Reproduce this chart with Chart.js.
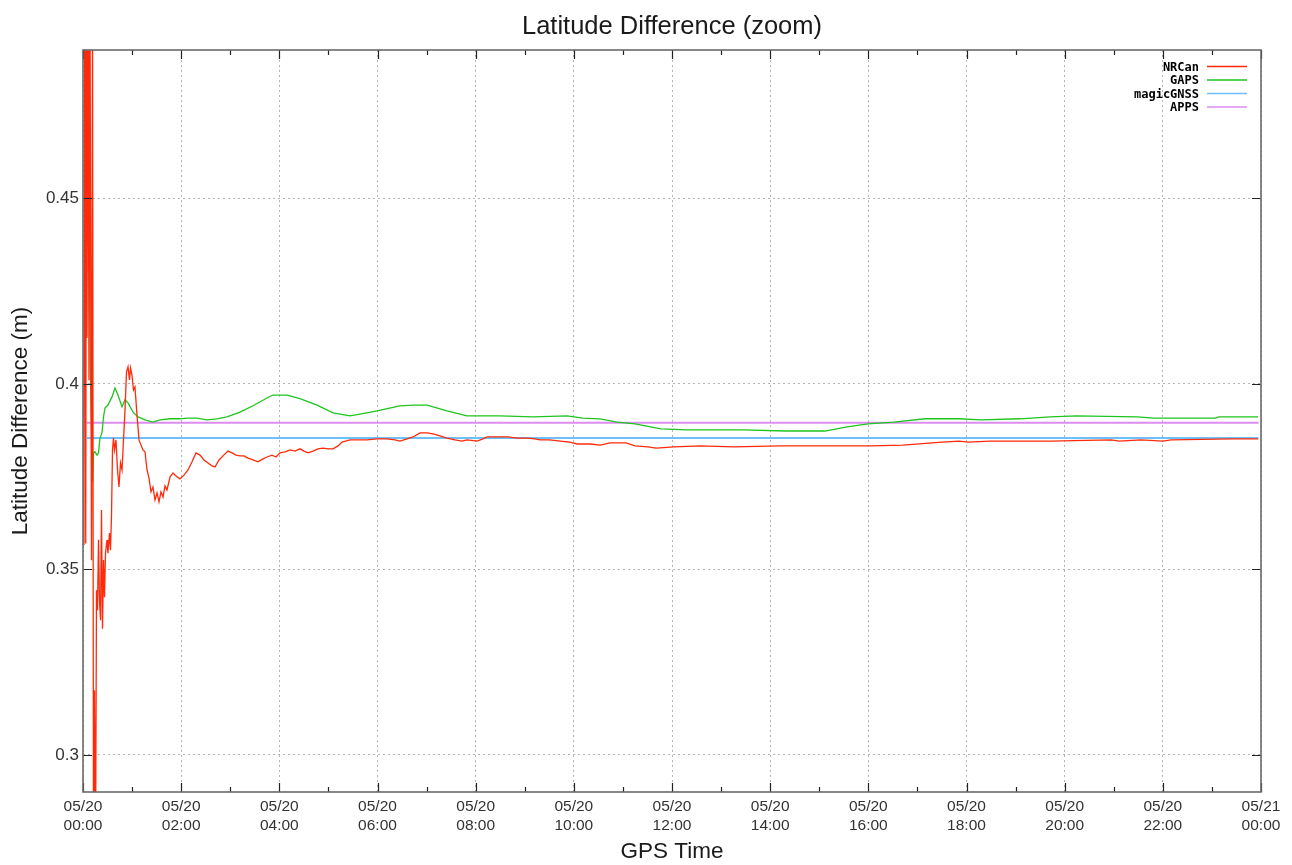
<!DOCTYPE html>
<html>
<head>
<meta charset="utf-8">
<script src="https://cdn.jsdelivr.net/npm/chart.js@4/dist/chart.umd.min.js"></script>
<style>
  html, body { margin: 0; padding: 0; background: #ffffff; }
  #wrap { width: 1292px; height: 865px; }
</style>
</head>
<body>
<div id="wrap"><canvas id="chart" width="1292" height="865"></canvas></div>
<script>
// ---------- data (hours after 05/20 00:00, latitude difference in m) ----------
const seriesNames = ['NRCan', 'GAPS', 'magicGNSS', 'APPS'];

const nrcanTime = [0.020,0.031,0.041,0.051,0.061,0.071,0.081,0.102,0.122,0.143,0.173,0.194,0.214,0.234,0.255,0.275,0.295,0.316,0.336,0.357,0.377,0.397,0.418,0.438,0.458,0.489,0.509,0.540,0.560,0.581,0.601,0.621,0.642,0.672,0.703,0.733,0.764,0.795,0.825,0.856,0.886,0.917,0.947,0.968,0.998,1.029,1.059,1.100,1.141,1.182,1.222,1.263,1.304,1.345,1.385,1.426,1.467,1.508,1.548,1.589,1.630,1.671,1.711,1.773,1.834,1.895,1.976,2.058,2.139,2.221,2.302,2.384,2.465,2.547,2.628,2.690,2.771,2.852,2.954,3.036,3.117,3.199,3.280,3.362,3.464,3.566,3.667,3.749,3.851,3.932,4.014,4.116,4.218,4.320,4.421,4.503,4.584,4.686,4.788,4.890,4.992,5.094,5.196,5.277,5.440,5.603,5.786,5.990,6.194,6.357,6.459,6.601,6.724,6.866,7.009,7.131,7.274,7.416,7.579,7.722,7.824,8.028,8.150,8.232,8.354,8.496,8.659,8.843,9.046,9.209,9.311,9.515,9.719,9.923,10.065,10.330,10.534,10.738,11.064,11.247,11.512,11.675,12.042,12.571,13.264,14.201,15.118,16.035,16.707,17.502,17.848,18.032,18.480,19.703,20.945,21.108,21.557,22.005,22.168,23.411,23.940];
const nrcanLat = [0.3566,0.500,0.465,0.500,0.357,0.500,0.4124,0.500,0.401,0.500,0.3525,0.500,0.2716,0.3174,0.270,0.3444,0.339,0.358,0.3417,0.3363,0.366,0.334,0.3525,0.3425,0.3544,0.3579,0.3544,0.3598,0.3552,0.3647,0.3822,0.3854,0.3822,0.3849,0.3768,0.3722,0.3787,0.3768,0.3849,0.393,0.4032,0.4046,0.4011,0.4043,0.4024,0.3984,0.3992,0.3916,0.3849,0.3835,0.3822,0.3817,0.3768,0.3746,0.3709,0.3722,0.3687,0.3706,0.3682,0.3709,0.3695,0.3725,0.3714,0.3749,0.3760,0.3752,0.3744,0.3754,0.3768,0.3790,0.3814,0.3808,0.3795,0.3787,0.3779,0.3776,0.3795,0.3806,0.3819,0.3814,0.3808,0.3806,0.3806,0.3800,0.3795,0.3790,0.3798,0.3803,0.3808,0.3803,0.3814,0.3817,0.3822,0.3819,0.3825,0.3819,0.3814,0.3819,0.3825,0.3827,0.3825,0.3825,0.3833,0.3843,0.3849,0.3849,0.3849,0.3852,0.3852,0.3849,0.3846,0.3852,0.3857,0.3868,0.3868,0.3865,0.3860,0.3854,0.3849,0.3846,0.3849,0.3846,0.3852,0.3857,0.3857,0.3857,0.3857,0.3854,0.3854,0.3852,0.3849,0.3849,0.3846,0.3843,0.3838,0.3838,0.3835,0.3841,0.3841,0.3833,0.3830,0.3827,0.3830,0.3833,0.3830,0.3833,0.3833,0.3833,0.3835,0.3843,0.3846,0.3843,0.3846,0.3846,0.3849,0.3846,0.3849,0.3846,0.3849,0.3852,0.3852];

const gapsTime = [0.061,0.092,0.132,0.153,0.194,0.214,0.244,0.285,0.316,0.346,0.387,0.418,0.448,0.509,0.591,0.652,0.713,0.795,0.856,0.917,1.019,1.121,1.263,1.426,1.569,1.773,1.976,2.119,2.323,2.526,2.730,2.934,3.199,3.464,3.749,3.871,4.156,4.421,4.768,5.094,5.440,5.786,5.990,6.459,6.724,7.009,7.416,7.824,8.496,9.169,9.861,10.187,10.534,10.880,11.247,11.777,12.306,13.447,14.324,15.118,15.567,15.994,16.524,17.156,17.848,18.296,19.091,19.703,20.232,21.475,21.822,23.065,23.146,23.940];
const gapsLat = [0.500,0.4523,0.4294,0.4011,0.3736,0.3814,0.3817,0.3808,0.3814,0.3854,0.3868,0.3911,0.3935,0.3943,0.3965,0.3989,0.3970,0.3938,0.3957,0.3949,0.3924,0.3911,0.3903,0.3897,0.3903,0.3906,0.3906,0.3908,0.3908,0.3903,0.3906,0.3911,0.3924,0.3941,0.3962,0.3970,0.3970,0.3960,0.3943,0.3922,0.3914,0.3922,0.3927,0.3941,0.3943,0.3943,0.3927,0.3914,0.3914,0.3911,0.3914,0.3908,0.3906,0.3897,0.3892,0.3879,0.3876,0.3876,0.3873,0.3873,0.3884,0.3892,0.3897,0.3906,0.3906,0.3903,0.3906,0.3911,0.3914,0.3911,0.3908,0.3908,0.3911,0.3911];

const magicTime = [0.08, 23.95];
const magicLat = [0.3854, 0.3854];
const appsTime = [0.08, 23.95];
const appsLat = [0.3895, 0.3895];

// ---------- axis ticks ----------
const xTickHours = [0,2,4,6,8,10,12,14,16,18,20,22,24];
const xMinorHours = [1,3,5,7,9,11,13,15,17,19,21,23];
const xTickDates = ['05/20','05/20','05/20','05/20','05/20','05/20','05/20','05/20','05/20','05/20','05/20','05/20','05/21'];
const xTickTimes = ['00:00','02:00','04:00','06:00','08:00','10:00','12:00','14:00','16:00','18:00','20:00','22:00','00:00'];
const yTickValues = [0.3, 0.35, 0.4, 0.45];
const yTickLabels = ['0.3', '0.35', '0.4', '0.45'];

const seriesColors = ['#ff2a0a', '#1fc41f', '#6ec0fa', '#dd8cf0'];

function pairs(t, v) { return t.map((h, i) => ({ x: h, y: v[i] })); }

const FONT = '"Liberation Sans", Arial, Helvetica, sans-serif';

const framePlugin = {
  id: 'frame',
  afterDraw(chart) {
    const { ctx, chartArea: a, scales: { x, y } } = chart;
    ctx.save();
    // ticks pointing inward
    ctx.strokeStyle = '#222';
    ctx.lineWidth = 1.2;
    ctx.beginPath();
    xTickHours.forEach(h => {
      const px = Math.round(x.getPixelForValue(h)) + 0.5;
      ctx.moveTo(px, a.bottom); ctx.lineTo(px, a.bottom - 9);
      ctx.moveTo(px, a.top); ctx.lineTo(px, a.top + 9);
    });
    xMinorHours.forEach(h => {
      const px = Math.round(x.getPixelForValue(h)) + 0.5;
      ctx.moveTo(px, a.bottom); ctx.lineTo(px, a.bottom - 5);
      ctx.moveTo(px, a.top); ctx.lineTo(px, a.top + 5);
    });
    yTickValues.forEach(v => {
      const py = Math.round(y.getPixelForValue(v)) + 0.5;
      ctx.moveTo(a.left, py); ctx.lineTo(a.left + 9, py);
      ctx.moveTo(a.right, py); ctx.lineTo(a.right - 9, py);
    });
    ctx.stroke();
    // frame
    ctx.strokeStyle = '#6a6a6a';
    ctx.lineWidth = 1.6;
    ctx.strokeRect(a.left, a.top, a.right - a.left, a.bottom - a.top);
    // legend (label left of sample line)
    ctx.font = 'bold 12px "DejaVu Sans Mono", monospace';
    ctx.textAlign = 'right';
    ctx.textBaseline = 'middle';
    const rows = [67.5, 81, 94.5, 108];
    seriesNames.forEach((name, i) => {
      const yy = rows[i];
      ctx.fillStyle = '#000';
      ctx.fillText(name, 1199, yy);
      ctx.strokeStyle = seriesColors[i];
      ctx.lineWidth = 1.5;
      ctx.beginPath();
      ctx.moveTo(1207, yy - 1); ctx.lineTo(1247, yy - 1);
      ctx.stroke();
    });
    ctx.restore();
  }
};

new Chart(document.getElementById('chart'), {
  type: 'line',
  data: {
    datasets: [
      { label: seriesNames[0], data: pairs(nrcanTime, nrcanLat), borderColor: seriesColors[0], borderWidth: 1.3 },
      { label: seriesNames[1], data: pairs(gapsTime, gapsLat), borderColor: seriesColors[1], borderWidth: 1.3 },
      { label: seriesNames[2], data: pairs(magicTime, magicLat), borderColor: seriesColors[2], borderWidth: 2 },
      { label: seriesNames[3], data: pairs(appsTime, appsLat), borderColor: seriesColors[3], borderWidth: 2 }
    ]
  },
  options: {
    responsive: false,
    animation: false,
    devicePixelRatio: 1,
    layout: { padding: { left: 0, right: 31, top: 0, bottom: 0 } },
    elements: { point: { radius: 0 }, line: { tension: 0, fill: false } },
    plugins: {
      legend: { display: false },
      tooltip: { enabled: false },
      title: {
        display: true,
        fullSize: false,
        text: 'Latitude Difference (zoom)',
        color: '#1a1a1a',
        font: { family: FONT, size: 25.5, weight: 'normal' },
        padding: { top: 12, bottom: 7.4 }
      }
    },
    scales: {
      x: {
        type: 'linear',
        min: 0, max: 24,
        afterFit(s) { s.height = 73; },
        afterBuildTicks(s) { s.ticks = xTickHours.map(v => ({ value: v })); },
        ticks: {
          autoSkip: false,
          maxRotation: 0,
          padding: 5,
          color: '#333',
          font: { family: FONT, size: 15.5, lineHeight: 1.23 },
          callback: (v) => { const i = xTickHours.indexOf(v); return i >= 0 ? [xTickDates[i], xTickTimes[i]] : ''; }
        },
        grid: { color: '#b4b4b4', lineWidth: 1, drawTicks: false },
        border: { display: false, dash: [2, 3] },
        title: {
          display: true, text: 'GPS Time', color: '#1a1a1a',
          font: { family: FONT, size: 22.5 }, padding: { top: 0, bottom: 0 }
        }
      },
      y: {
        type: 'linear',
        min: 0.29, max: 0.49,
        afterFit(s) { s.width = 83; },
        afterBuildTicks(s) { s.ticks = yTickValues.map(v => ({ value: v })); },
        ticks: {
          autoSkip: false,
          padding: 4,
          color: '#333',
          font: { family: FONT, size: 17 },
          callback: (v) => { const i = yTickValues.findIndex(t => Math.abs(t - v) < 1e-9); return i >= 0 ? yTickLabels[i] : ''; }
        },
        grid: { color: '#b4b4b4', lineWidth: 1, drawTicks: false },
        border: { display: false, dash: [2, 3] },
        title: {
          display: true, text: 'Latitude Difference (m)', color: '#1a1a1a',
          font: { family: FONT, size: 22.5 }, padding: { top: 7, bottom: 0 }
        }
      }
    }
  },
  plugins: [framePlugin]
});
</script>
</body>
</html>
